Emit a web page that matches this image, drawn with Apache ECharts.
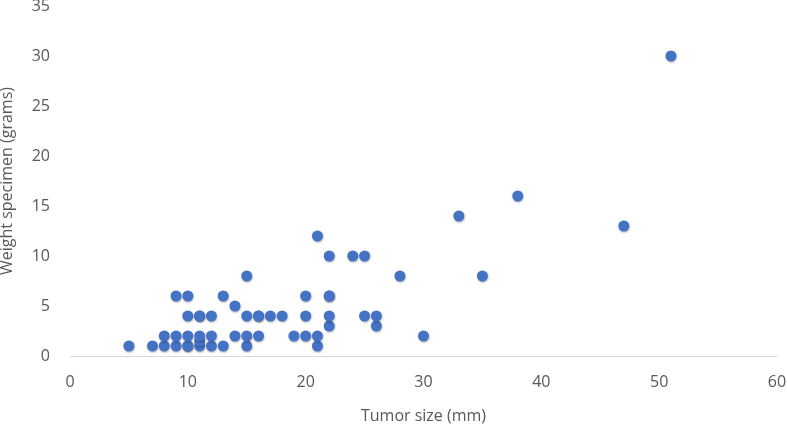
<!DOCTYPE html>
<html>
<head>
<meta charset="utf-8">
<script src="https://cdn.jsdelivr.net/npm/echarts@6/dist/echarts.min.js"></script>
<style>html,body{margin:0;padding:0;background:#fff;}#c{width:787px;height:429px;}</style>
</head>
<body>
<div id="c"></div>
<script>
const tumorSize = [5,7,8,8,9,9,9,10,10,10,10,10,11,11,11,11,11,12,12,12,13,13,14,14,15,15,15,15,16,16,16,17,18,19,20,20,20,21,21,21,22,22,22,22,22,24,25,25,26,26,28,30,33,35,38,47,51];
const weight    = [1,1,1,2,1,2,6,1,1,2,4,6,1,1.5,2,4,4,1,2,4,1,6,2,5,1,2,4,8,2,4,4,4,4,2,2,4,6,1,2,12,3,4,6,6,10,10,4,10,3,4,8,2,14,8,16,13,30];
const xTicks = [0,10,20,30,40,50,60];
const yTicks = [0,5,10,15,20,25,30,35];

const points = tumorSize.map((x, i) => [x, weight[i]]);
const font = '"Open Sans", sans-serif';
const chart = echarts.init(document.getElementById('c'));
chart.setOption({
  animation: false,
  grid: { left: 70, right: 10, top: 6, bottom: 73, containLabel: false, outerBoundsMode: 'none' },
  xAxis: {
    type: 'value', min: xTicks[0], max: xTicks[xTicks.length-1], interval: 10,
    name: 'Tumor size (mm)', nameLocation: 'middle', nameGap: 52,
    nameTextStyle: { color: '#595959', fontSize: 16, fontFamily: font },
    axisLine: { show: true, lineStyle: { color: '#d9d9d9', width: 1 } },
    axisTick: { show: false },
    splitLine: { show: false },
    axisLabel: { color: '#595959', fontSize: 16, fontFamily: font, margin: 18 }
  },
  yAxis: {
    type: 'value', min: yTicks[0], max: yTicks[yTicks.length-1], interval: 5,
    name: 'Weight specimen (grams)', nameLocation: 'middle', nameGap: 55,
    nameTextStyle: { color: '#595959', fontSize: 16, fontFamily: font },
    axisLine: { show: false },
    axisTick: { show: false },
    splitLine: { show: false },
    axisLabel: { color: '#595959', fontSize: 16, fontFamily: font, margin: 20 }
  },
  series: [{
    type: 'scatter',
    data: points,
    symbol: 'circle',
    symbolSize: 11,
    itemStyle: {
      color: '#4472C4', opacity: 1,
      shadowBlur: 2, shadowColor: 'rgba(0,0,0,0.3)', shadowOffsetX: 0.5, shadowOffsetY: 1
    }
  }]
});
</script>
</body>
</html>
